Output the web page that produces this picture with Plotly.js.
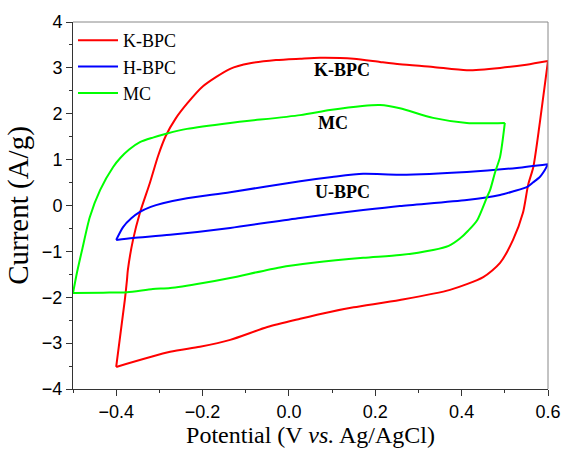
<!DOCTYPE html>
<html>
<head>
<meta charset="utf-8">
<script src="https://cdn.plot.ly/plotly-3.0.1.min.js"></script>
<style>html,body{margin:0;padding:0;background:#fff;}#chart{width:563px;height:451px;}</style>
</head>
<body>
<div id="chart"></div>
<script>
// K-BPC (red)
const kbpcX = [-0.4, -0.38, -0.375, -0.373, -0.361, -0.345, -0.322, -0.303, -0.285, -0.262, -0.236, -0.199, -0.136, -0.09, -0.03, 0.026, 0.072, 0.15, 0.211, 0.257, 0.334, 0.412, 0.489, 0.55, 0.6,
  0.581, 0.566, 0.554, 0.542, 0.519, 0.489, 0.45, 0.373, 0.257, 0.15, 0.095, 0.026, -0.05, -0.136, -0.206, -0.275, -0.4];
const kbpcY = [-3.52, -2.06, -1.62, -1.41, -0.75, -0.16, 0.49, 1.08, 1.52, 1.9, 2.22, 2.6, 2.98, 3.1, 3.17, 3.2, 3.22, 3.2, 3.13, 3.08, 3.02, 2.95, 3.0, 3.07, 3.15,
  1.8, 0.84, 0.45, -0.16, -0.75, -1.25, -1.56, -1.84, -2.06, -2.22, -2.32, -2.47, -2.65, -2.93, -3.08, -3.19, -3.52];
// H-BPC (blue)
const hbpcX = [-0.4, -0.384, -0.365, -0.345, -0.32, -0.292, -0.236, -0.136, 0.026, 0.1, 0.172, 0.257, 0.412, 0.528, 0.6,
  0.593, 0.581, 0.565, 0.551, 0.52, 0.489, 0.412, 0.257, 0.172, 0.026, -0.136, -0.275, -0.361, -0.4];
const hbpcY = [-0.75, -0.47, -0.28, -0.14, -0.03, 0.05, 0.16, 0.29, 0.53, 0.62, 0.69, 0.67, 0.73, 0.82, 0.9,
  0.78, 0.62, 0.5, 0.4, 0.31, 0.23, 0.12, -0.01, -0.1, -0.27, -0.49, -0.64, -0.71, -0.75];
// MC (green)
const mcX = [-0.5, -0.491, -0.479, -0.461, -0.437, -0.407, -0.39, -0.37, -0.345, -0.315, -0.282, -0.236, -0.136, 0.026, 0.095, 0.17, 0.211, 0.257, 0.334, 0.412, 0.5,
  0.489, 0.477, 0.466, 0.459, 0.436, 0.415, 0.396, 0.37, 0.334, 0.257, 0.172, 0.056, -0.021, -0.136, -0.199, -0.275, -0.315, -0.375, -0.43, -0.5];
const mcY = [-1.91, -1.47, -0.97, -0.25, 0.34, 0.84, 1.04, 1.22, 1.38, 1.48, 1.57, 1.67, 1.8, 1.97, 2.08, 2.17, 2.19, 2.12, 1.91, 1.8, 1.8,
  1.06, 0.71, 0.34, 0.19, -0.32, -0.55, -0.72, -0.88, -0.97, -1.08, -1.14, -1.25, -1.35, -1.58, -1.69, -1.8, -1.82, -1.89, -1.9, -1.91];

const seriesNames = ['K-BPC', 'H-BPC', 'MC'];
const seriesColors = ['#ff0000', '#0000ff', '#00ff00'];
const labelTexts = ['K-BPC', 'MC', 'U-BPC'];
const labelX = [0.123, 0.102, 0.125];
const labelY = [2.95, 1.8, 0.29];

// split each loop at the vertex potential (max x) into anodic and cathodic sweeps,
// so the spline smooths each sweep but keeps the sharp switching corners
function sweeps(xs, ys, name, color) {
  let k = 0;
  for (let i = 1; i < xs.length; i++) if (xs[i] > xs[k]) k = i;
  const base = {mode: 'lines', legendgroup: name, name: name,
    line: {color: color, width: 2, shape: 'spline', smoothing: 0.7}};
  return [
    Object.assign({}, base, {x: xs.slice(0, k + 1), y: ys.slice(0, k + 1), showlegend: true}),
    Object.assign({}, base, {x: xs.slice(k), y: ys.slice(k), showlegend: false})
  ];
}

const traces = [].concat(
  sweeps(kbpcX, kbpcY, seriesNames[0], seriesColors[0]),
  sweeps(hbpcX, hbpcY, seriesNames[1], seriesColors[1]),
  sweeps(mcX, mcY, seriesNames[2], seriesColors[2])
);

const serif = 'Liberation Serif, Times New Roman, serif';
const tickFont = {family: 'Liberation Sans, Arial, sans-serif', size: 18, color: '#000'};

const layout = {
  width: 563, height: 451,
  margin: {l: 73, r: 15, t: 22, b: 62},
  paper_bgcolor: '#fff', plot_bgcolor: '#fff',
  showlegend: true,
  legend: {x: 0.0, y: 1.0, xanchor: 'left', yanchor: 'top', bgcolor: 'rgba(0,0,0,0)',
    font: {family: serif, size: 18, color: '#000'},
    itemwidth: 40, tracegroupgap: 0},
  xaxis: {range: [-0.5, 0.6], dtick: 0.2, tick0: -0.4, tickformat: '.1f', showgrid: false, zeroline: false,
    showline: true, linecolor: '#333', linewidth: 1, ticks: 'outside', ticklen: 6, tickcolor: '#333',
    tickfont: tickFont,
    minor: {dtick: 0.1, ticks: 'outside', ticklen: 3, tickcolor: '#333', showgrid: false},
    title: {text: 'Potential (V <i>vs.</i> Ag/AgCl)', font: {family: serif, size: 24, color: '#000'}, standoff: 4}},
  yaxis: {range: [-4, 4], dtick: 1, showgrid: false, zeroline: false,
    showline: true, linecolor: '#333', linewidth: 1, ticks: 'outside', ticklen: 6, tickcolor: '#333',
    tickfont: tickFont,
    minor: {dtick: 0.5, ticks: 'outside', ticklen: 3, tickcolor: '#333', showgrid: false},
    title: {text: 'Current (A/g)', font: {family: serif, size: 29, color: '#000'}, standoff: 4}},
  shapes: [
    {type: 'line', xref: 'paper', yref: 'paper', x0: 0, x1: 1, y0: 1, y1: 1, line: {color: '#888', width: 1}},
    {type: 'line', xref: 'paper', yref: 'paper', x0: 1, x1: 1, y0: 0, y1: 1, line: {color: '#888', width: 1}}
  ],
  annotations: labelTexts.map((t, i) => ({
    x: labelX[i], y: labelY[i], xref: 'x', yref: 'y', text: '<b>' + t + '</b>', showarrow: false,
    font: {family: serif, size: 18, color: '#000'}
  }))
};

Plotly.newPlot('chart', traces, layout, {displayModeBar: false, staticPlot: true});
</script>
</body>
</html>
